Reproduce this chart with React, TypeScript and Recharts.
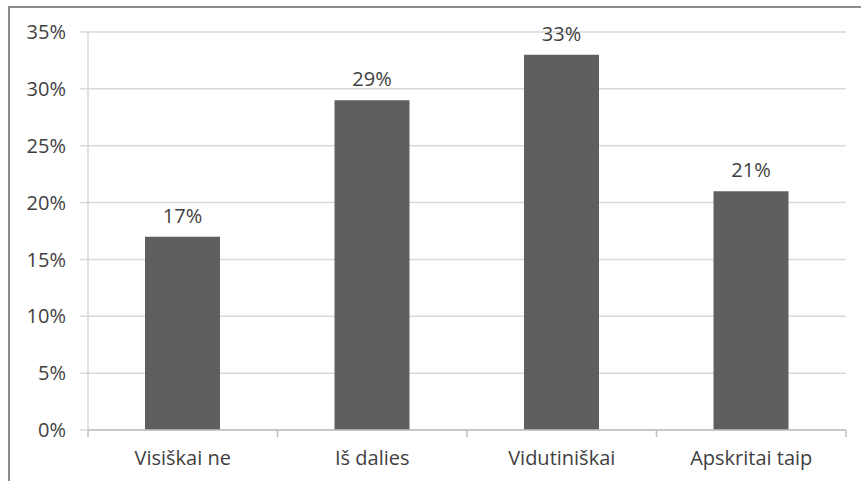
import React from "react";
import { BarChart, Bar, XAxis, YAxis, CartesianGrid, LabelList } from "recharts";

// Survey answers and their shares (percent)
const categories = ["Visiškai ne", "Iš dalies", "Vidutiniškai", "Apskritai taip"];
const shares = [17, 29, 33, 21];
const yTicks = [0, 5, 10, 15, 20, 25, 30, 35];

// Bars sit at the middle of each unit slot on a numeric axis,
// so the axis ticks can mark the slot boundaries.
const data = categories.map((name, i) => ({ name, pos: i + 0.5, value: shares[i] }));
const xTicks = Array.from({ length: categories.length * 2 + 1 }, (_, i) => i / 2);

const FONT = "'Open Sans', 'Noto Sans', sans-serif";
const TEXT = "#3f3f3f";
const BAR = "#5f5f5f";
const GRID = "#d9d9d9";
const AXIS = "#bfbfbf";
const TICK_LEN = 7;

const XTick = (props: any) => {
  const { x, y, payload } = props;
  const v = payload.value as number;
  if (Number.isInteger(v)) {
    return <line x1={x} x2={x} y1={y - TICK_LEN} y2={y} stroke={AXIS} strokeWidth={1.5} />;
  }
  return (
    <text x={x} y={y + 28} textAnchor="middle" fill={TEXT} fontSize={20} fontFamily={FONT}>
      {categories[Math.floor(v)]}
    </text>
  );
};

export default function App() {
  return (
    <div
      style={{
        position: "absolute",
        left: 0,
        top: 0,
        width: 861,
        height: 481,
        overflow: "hidden",
        background: "#fff",
      }}
    >
      <div
        style={{
          position: "absolute",
          left: 8,
          top: 6,
          width: 900,
          height: 520,
          borderTop: "2px solid #8c8c8c",
          borderLeft: "2px solid #8c8c8c",
          boxSizing: "border-box",
        }}
      />
      <div style={{ position: "absolute", left: 0, top: 0 }}>
        <BarChart
          width={861}
          height={481}
          data={data}
          margin={{ top: 32, right: 15, left: 0, bottom: 21 }}
        >
          <CartesianGrid vertical={false} stroke={GRID} strokeWidth={1.5} />
          <XAxis
            dataKey="pos"
            type="number"
            domain={[0, categories.length]}
            ticks={xTicks}
            interval={0}
            allowDecimals
            height={30}
            tickSize={TICK_LEN}
            tickMargin={0}
            tickLine={false}
            axisLine={{ stroke: AXIS, strokeWidth: 1.5 }}
            tick={<XTick />}
          />
          <YAxis
            width={88}
            domain={[0, 35]}
            ticks={yTicks}
            interval={0}
            tickSize={8}
            tickMargin={14}
            tickFormatter={(v: number) => `${v}%`}
            tick={{ fill: TEXT, fontSize: 20, fontFamily: FONT }}
            tickLine={{ stroke: GRID, strokeWidth: 1.5 }}
            axisLine={{ stroke: GRID, strokeWidth: 1.5 }}
          />
          <Bar dataKey="value" fill={BAR} barSize={75} isAnimationActive={false}>
            <LabelList
              dataKey="value"
              position="top"
              offset={14}
              formatter={(v: number) => `${v}%`}
              fill={TEXT}
              fontSize={20}
              fontFamily={FONT}
            />
          </Bar>
        </BarChart>
      </div>
    </div>
  );
}
